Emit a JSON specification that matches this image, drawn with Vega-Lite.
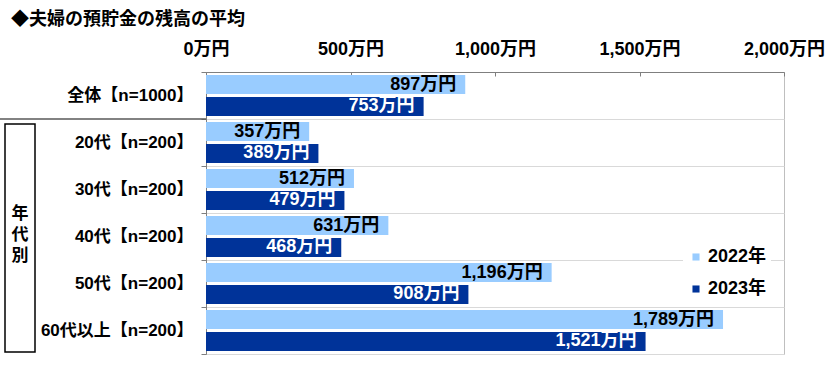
{
  "$schema": "https://vega.github.io/schema/vega-lite/v6.json",
  "width": 578,
  "height": 282,
  "autosize": {"type": "none"},
  "padding": {"left": 206, "top": 72, "right": 56, "bottom": 11},
  "background": "white",
  "config": {
    "font": "Liberation Sans, Noto Sans CJK JP",
    "view": {"stroke": "#bfbfbf", "strokeWidth": 1}
  },
  "title": {
    "text": "◆夫婦の預貯金の残高の平均",
    "anchor": "start",
    "frame": "group",
    "dx": -195,
    "fontSize": 18,
    "fontWeight": "bold",
    "color": "black",
    "offset": 11
  },
  "datasets": {
    "bars": [
      {"row": "全体【n=1000】", "year": "2022年", "value": 897, "label": "897万円"},
      {"row": "全体【n=1000】", "year": "2023年", "value": 753, "label": "753万円"},
      {"row": "20代【n=200】", "year": "2022年", "value": 357, "label": "357万円"},
      {"row": "20代【n=200】", "year": "2023年", "value": 389, "label": "389万円"},
      {"row": "30代【n=200】", "year": "2022年", "value": 512, "label": "512万円"},
      {"row": "30代【n=200】", "year": "2023年", "value": 479, "label": "479万円"},
      {"row": "40代【n=200】", "year": "2022年", "value": 631, "label": "631万円"},
      {"row": "40代【n=200】", "year": "2023年", "value": 468, "label": "468万円"},
      {"row": "50代【n=200】", "year": "2022年", "value": 1196, "label": "1,196万円"},
      {"row": "50代【n=200】", "year": "2023年", "value": 908, "label": "908万円"},
      {"row": "60代以上【n=200】", "year": "2022年", "value": 1789, "label": "1,789万円"},
      {"row": "60代以上【n=200】", "year": "2023年", "value": 1521, "label": "1,521万円"}
    ],
    "groups": [
      {"start": "20代【n=200】", "end": "60代以上【n=200】", "mid": "40代【n=200】", "label": "年\n代\n別"}
    ]
  },
  "layer": [
    {
      "data": {"name": "bars"},
      "mark": {"type": "bar"},
      "encoding": {
        "y": {
          "field": "row",
          "type": "nominal",
          "sort": null,
          "scale": {
            "domain": ["全体【n=1000】", "20代【n=200】", "30代【n=200】", "40代【n=200】", "50代【n=200】", "60代以上【n=200】"],
            "paddingInner": 0,
            "paddingOuter": 0
          },
          "axis": {
            "title": null,
            "labelFontSize": 17,
            "labelFontWeight": "bold",
            "labelColor": "black",
            "labelLimit": 250,
            "tickBand": "extent",
            "grid": true,
            "gridColor": "#d9d9d9",
            "tickSize": 5,
            "tickColor": "#7f7f7f",
            "domainColor": "#7f7f7f",
            "labelPadding": 8
          }
        },
        "yOffset": {
          "field": "year",
          "type": "nominal",
          "scale": {"paddingInner": 0.13, "paddingOuter": 0.14}
        },
        "x": {
          "field": "value",
          "type": "quantitative",
          "scale": {"domain": [0, 2000]},
          "axis": {
            "orient": "top",
            "title": null,
            "values": [0, 500, 1000, 1500, 2000],
            "labelExpr": "format(datum.value, ',') + '万円'",
            "labelFontSize": 18,
            "labelFontWeight": "bold",
            "labelColor": "black",
            "labelFlush": false,
            "tickSize": -4,
            "tickColor": "#7f7f7f",
            "domainColor": "#7f7f7f",
            "labelPadding": 18,
            "grid": false
          }
        },
        "color": {
          "field": "year",
          "type": "nominal",
          "scale": {"domain": ["2022年", "2023年"], "range": ["#99ccff", "#003399"]},
          "legend": {
            "title": null,
            "orient": "none",
            "legendX": 477,
            "legendY": 172,
            "symbolType": "square",
            "symbolSize": 50,
            "symbolStrokeWidth": 0,
            "labelOffset": 3,
            "labelFontSize": 18,
            "labelFontWeight": "bold",
            "labelColor": "black",
            "rowPadding": 14,
            "fillColor": "white",
            "padding": 4
          }
        }
      }
    },
    {
      "data": {"name": "bars"},
      "mark": {"type": "text", "align": "right", "dx": -9, "fontSize": 18, "fontWeight": "bold"},
      "encoding": {
        "y": {"field": "row", "type": "nominal", "sort": null},
        "yOffset": {"field": "year", "type": "nominal"},
        "x": {"field": "value", "type": "quantitative"},
        "text": {"field": "label"},
        "color": {"condition": {"test": "datum.year === '2023年'", "value": "white"}, "value": "black"}
      }
    },
    {
      "data": {"name": "groups"},
      "mark": {"type": "rule", "stroke": "#595959", "strokeWidth": 1.5},
      "encoding": {
        "y": {"field": "start", "type": "nominal", "sort": null, "bandPosition": 0},
        "x": {"value": -206},
        "x2": {"value": 0}
      }
    },
    {
      "data": {"name": "groups"},
      "mark": {"type": "rect", "fill": "white", "stroke": "black", "strokeWidth": 1.5, "yOffset": -18.5, "y2Offset": 21.5},
      "encoding": {
        "y": {"field": "start", "type": "nominal", "sort": null},
        "y2": {"field": "end"},
        "x": {"value": -201},
        "x2": {"value": -171}
      }
    },
    {
      "data": {"name": "groups"},
      "mark": {"type": "text", "lineBreak": "\n", "fontSize": 17, "fontWeight": "bold", "lineHeight": 21, "align": "center", "baseline": "middle", "dy": -23},
      "encoding": {
        "y": {"field": "mid", "type": "nominal", "sort": null},
        "x": {"value": -186},
        "text": {"field": "label"},
        "color": {"value": "black"}
      }
    }
  ]
}
